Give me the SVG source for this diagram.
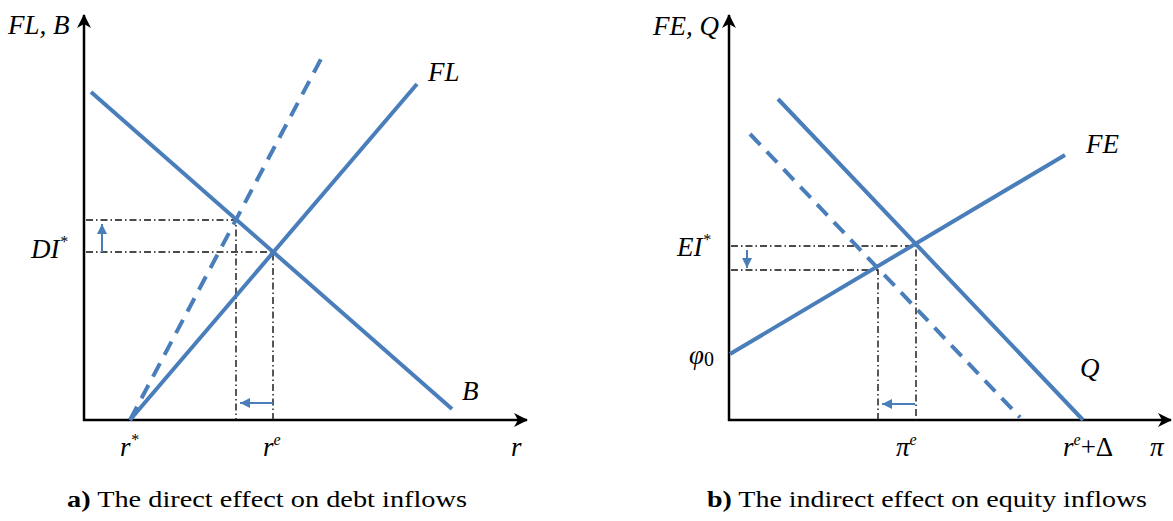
<svg xmlns="http://www.w3.org/2000/svg" width="1173" height="521" viewBox="0 0 1173 521">
<style>
.axis{stroke:#000;stroke-width:2.5;fill:none}
.curve{stroke:#4A7EBB;stroke-width:4;fill:none;stroke-linecap:butt}
.dashed{stroke:#4A7EBB;stroke-width:4;fill:none}
.guide{stroke:#111;stroke-width:1.4;fill:none;stroke-dasharray:7 3 1.5 3}
.shift{stroke:#4A7EBB;stroke-width:2;fill:none}
.lbl{font-family:"Liberation Serif","Times New Roman",Times,serif;font-style:italic;font-size:27px;fill:#000}
.sup{font-size:16px}
.cap{font-family:"Liberation Serif","Times New Roman",Times,serif;font-size:23px;fill:#000}
</style>
<defs>
<marker id="ax" markerWidth="16" markerHeight="16" refX="13" refY="7" orient="auto" markerUnits="userSpaceOnUse">
<path d="M0,0 L14,7 L0,14 L4,7 Z" fill="#000"/>
</marker>
<marker id="bl" markerWidth="12" markerHeight="12" refX="10" refY="5" orient="auto" markerUnits="userSpaceOnUse">
<path d="M0,0 L10,5 L0,10 Z" fill="#4A7EBB"/>
</marker>
</defs>
<g id="panel-a">
<g id="axes-a">
<line class="axis" x1="84" y1="421" x2="84" y2="15" marker-end="url(#ax)"/>
<line class="axis" x1="83" y1="420" x2="527" y2="420" marker-end="url(#ax)"/>
</g>
<g id="connectors-a">
<polyline class="guide" points="86,220 236,220 236,420"/>
<polyline class="guide" points="86,252 273,252 273,420"/>
<line class="shift" x1="102" y1="252" x2="102" y2="224" marker-end="url(#bl)"/>
<line class="shift" x1="273" y1="403" x2="240" y2="403" marker-end="url(#bl)"/>
</g>
<g id="curve-B"><line class="curve" x1="91" y1="92" x2="452" y2="409"/></g>
<g id="curve-FL"><line class="curve" x1="130" y1="420" x2="417" y2="84"/></g>
<g id="curve-FL-shifted"><line class="dashed" stroke-dasharray="15 9.56" x1="130" y1="420" x2="321" y2="59"/></g>
<g id="labels-a">
<text class="lbl" x="8" y="34">FL, B</text>
<text class="lbl" x="428" y="81">FL</text>
<text class="lbl" x="462" y="400">B</text>
<text class="lbl" x="31" y="258">DI<tspan class="sup" dy="-11">*</tspan></text>
<text class="lbl" x="120" y="456">r<tspan class="sup" dy="-11">*</tspan></text>
<text class="lbl" x="263" y="456">r<tspan class="sup" dy="-11">e</tspan></text>
<text class="lbl" x="511" y="456">r</text>
</g>
<text class="cap" x="67" y="507" textLength="400" lengthAdjust="spacingAndGlyphs"><tspan font-weight="bold">a)</tspan> The direct effect on debt inflows</text>
</g>
<g id="panel-b">
<g id="axes-b">
<line class="axis" x1="729" y1="421" x2="729" y2="15" marker-end="url(#ax)"/>
<line class="axis" x1="728" y1="420" x2="1171" y2="420" marker-end="url(#ax)"/>
</g>
<g id="connectors-b">
<polyline class="guide" points="731,246 916,246 916,420"/>
<polyline class="guide" points="731,270 878,270 878,420"/>
<line class="shift" x1="747" y1="250" x2="747" y2="268" marker-end="url(#bl)"/>
<line class="shift" x1="915" y1="404" x2="882" y2="404" marker-end="url(#bl)"/>
</g>
<g id="curve-FE"><line class="curve" x1="730" y1="354" x2="1065" y2="155"/></g>
<g id="curve-Q"><line class="curve" x1="778" y1="99" x2="1083" y2="420"/></g>
<g id="curve-Q-shifted"><line class="dashed" stroke-dasharray="15 9.32" x1="750" y1="134" x2="1020" y2="417.4"/></g>
<g id="labels-b">
<text class="lbl" x="653" y="35">FE, Q</text>
<text class="lbl" x="1086" y="153">FE</text>
<text class="lbl" x="1080" y="377">Q</text>
<text class="lbl" x="677" y="256">EI<tspan class="sup" dy="-11">*</tspan></text>
<text class="lbl" x="689" y="364">φ<tspan font-style="normal" font-size="20" dy="2">0</tspan></text>
<text class="lbl" x="896" y="456">π<tspan class="sup" dy="-11">e</tspan></text>
<text class="lbl" x="1063" y="456">r<tspan class="sup" dy="-11">e</tspan><tspan dy="11" font-style="normal">+Δ</tspan></text>
<text class="lbl" x="1150" y="456">π</text>
</g>
<text class="cap" x="707" y="507" textLength="440" lengthAdjust="spacingAndGlyphs"><tspan font-weight="bold">b)</tspan> The indirect effect on equity inflows</text>
</g>
</svg>
